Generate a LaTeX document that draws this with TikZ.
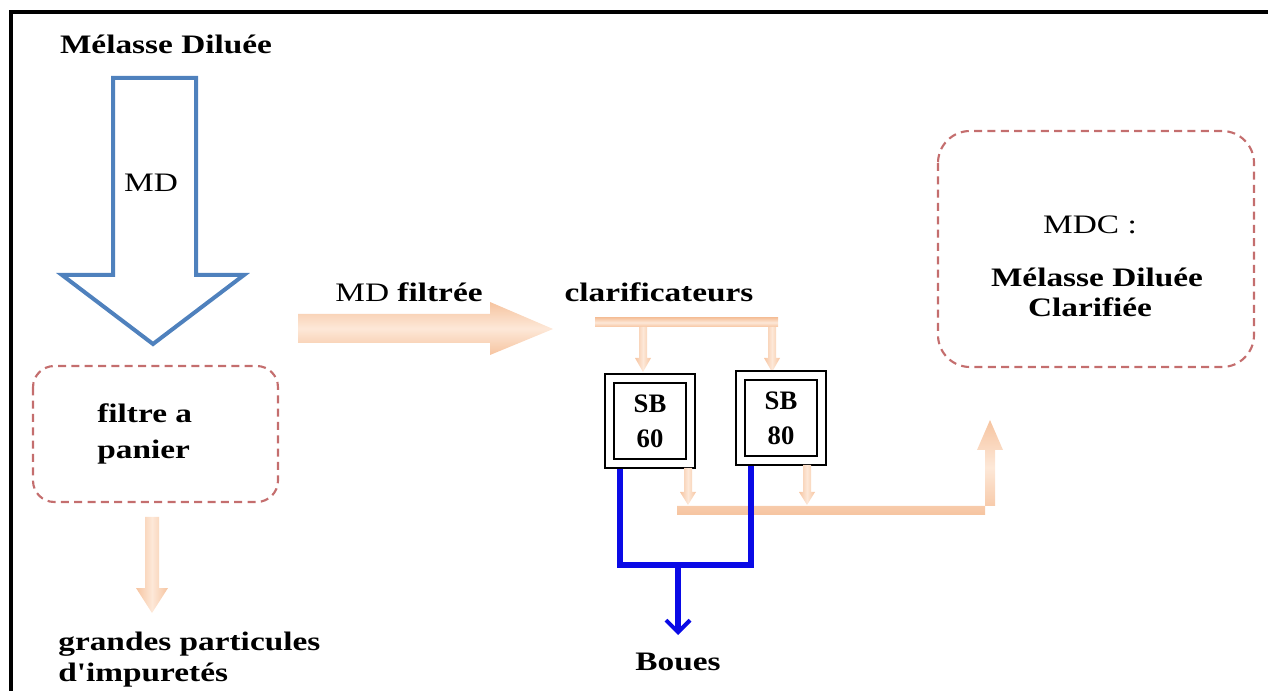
\documentclass[tikz,border=0pt]{standalone}
\usepackage{fontspec}
\setmainfont{Liberation Serif}
\usetikzlibrary{arrows.meta}
\definecolor{peach}{RGB}{246,196,160}
\definecolor{peachlight}{RGB}{253,232,216}
\definecolor{mdblue}{RGB}{79,129,189}
\definecolor{dashred}{RGB}{196,110,110}
\definecolor{bouesblue}{RGB}{10,10,230}
\tikzset{
  lbl/.style={font=\bfseries\fontsize{20}{22}\selectfont, xscale=1.25, inner sep=0pt},
  lblreg/.style={font=\fontsize{20}{22}\selectfont, xscale=1.25, inner sep=0pt},
  dashbox/.style={draw=dashred, line width=1.6pt, dash pattern=on 6pt off 4pt},
  peachfill/.style={top color=peach, bottom color=peach, middle color=peachlight, draw=none},
  sbout/.style={draw=black, line width=1.3pt, minimum width=67.5pt, minimum height=70pt},
  sbin/.style={draw=black, line width=1.3pt, minimum width=54pt, minimum height=57pt, align=center, font=\bfseries\fontsize{20}{26}\selectfont},
  boues/.style={draw=bouesblue, line width=3.8pt},
}
\begin{document}
\begin{tikzpicture}[x=0.75pt,y=0.75pt]
\useasboundingbox (0,0) rectangle (1268,-691);
% frame
\draw[line width=2.3pt] (11,-691) -- (11,-12) -- (1268,-12);

% title
\node[lbl] (title) at (166,-44) {Mélasse Diluée};

% hollow blue arrow
\draw[mdblue, line width=3pt, line join=miter]
  (113,-78) -- (196,-78) -- (196,-275) -- (244,-275) -- (153,-344) -- (62,-275) -- (113,-275) -- cycle;
\node[lblreg] (md) at (151,-183) {MD};

% filter box
\draw[dashbox, rounded corners=16pt] (33,-366) rectangle (278,-502);
\node[lbl, anchor=west] (f1) at (97,-413) {filtre a};
\node[lbl, anchor=west] (f2) at (97,-452) {panier};

% arrow down from filter
\shade[peachfill, shading angle=90] (145,-517) -- (159,-517) -- (159,-588) -- (168,-588) -- (152,-613) -- (136,-588) -- (145,-588) -- cycle;

\node[lbl, anchor=west] (gp) at (58,-644) {grandes particules};
\node[lbl, anchor=west] (di) at (58,-675) {d\textquotesingle impuretés};

% MD filtree
\node[lbl] (mdf) at (409,-292) {\mdseries MD \bfseries filtrée};
\shade[peachfill] (298,-314) -- (490,-314) -- (490,-302) -- (553,-329) -- (490,-355) -- (490,-343) -- (298,-343) -- cycle;

\node[lbl] (clar) at (659,-292) {clarificateurs};

% distribution bar
\shade[peachfill] (595,-318) rectangle (778,-327);
\foreach \xx in {643,772}{
  \shade[peachfill, shading angle=90] (\xx-4,-327) -- (\xx+4,-327) -- (\xx+4,-358) -- (\xx+8,-358) -- (\xx,-372) -- (\xx-8,-358) -- (\xx-4,-358) -- cycle;
}

% SB boxes
\node[sbout] (sb60o) at (650,-421) {};
\node[sbin] (sb60) at (650,-421) {SB\\60};
\node[sbout] (sb80o) at (781,-418) {};
\node[sbin] (sb80) at (781,-418) {SB\\80};

% collector arrows
\foreach \xx/\yt in {688/468,807/465}{
  \shade[peachfill, shading angle=90] (\xx-4,-\yt) -- (\xx+4,-\yt) -- (\xx+4,-492) -- (\xx+8,-492) -- (\xx,-505) -- (\xx-8,-492) -- (\xx-4,-492) -- cycle;
}
\shade[peachfill] (677,-506) -- (995,-506) -- (995,-450) -- (1003,-450) -- (990,-420) -- (977,-450) -- (985,-450) -- (985,-515) -- (677,-515) -- cycle;

% MDC box
\draw[dashbox, rounded corners=24pt] (938,-131) rectangle (1254,-367);
\node[lblreg] (mdc) at (1090,-225) {MDC :};
\node[lbl] (mdc2) at (1097,-277) {Mélasse Diluée};
\node[lbl] (mdc3) at (1090,-307) {Clarifiée};

% boues lines
\coordinate (j) at (678,-565);
\draw[boues] (sb60o.south -| 620,0) |- (j) -| (sb80o.south -| 751,0);
\node[lbl] (boues) at (678,-662) {Boues};
\draw[boues, -{Straight Barb[length=9pt,width=18pt,line width=3pt]}] (j) -- (678,-635);
\end{tikzpicture}
\end{document}
